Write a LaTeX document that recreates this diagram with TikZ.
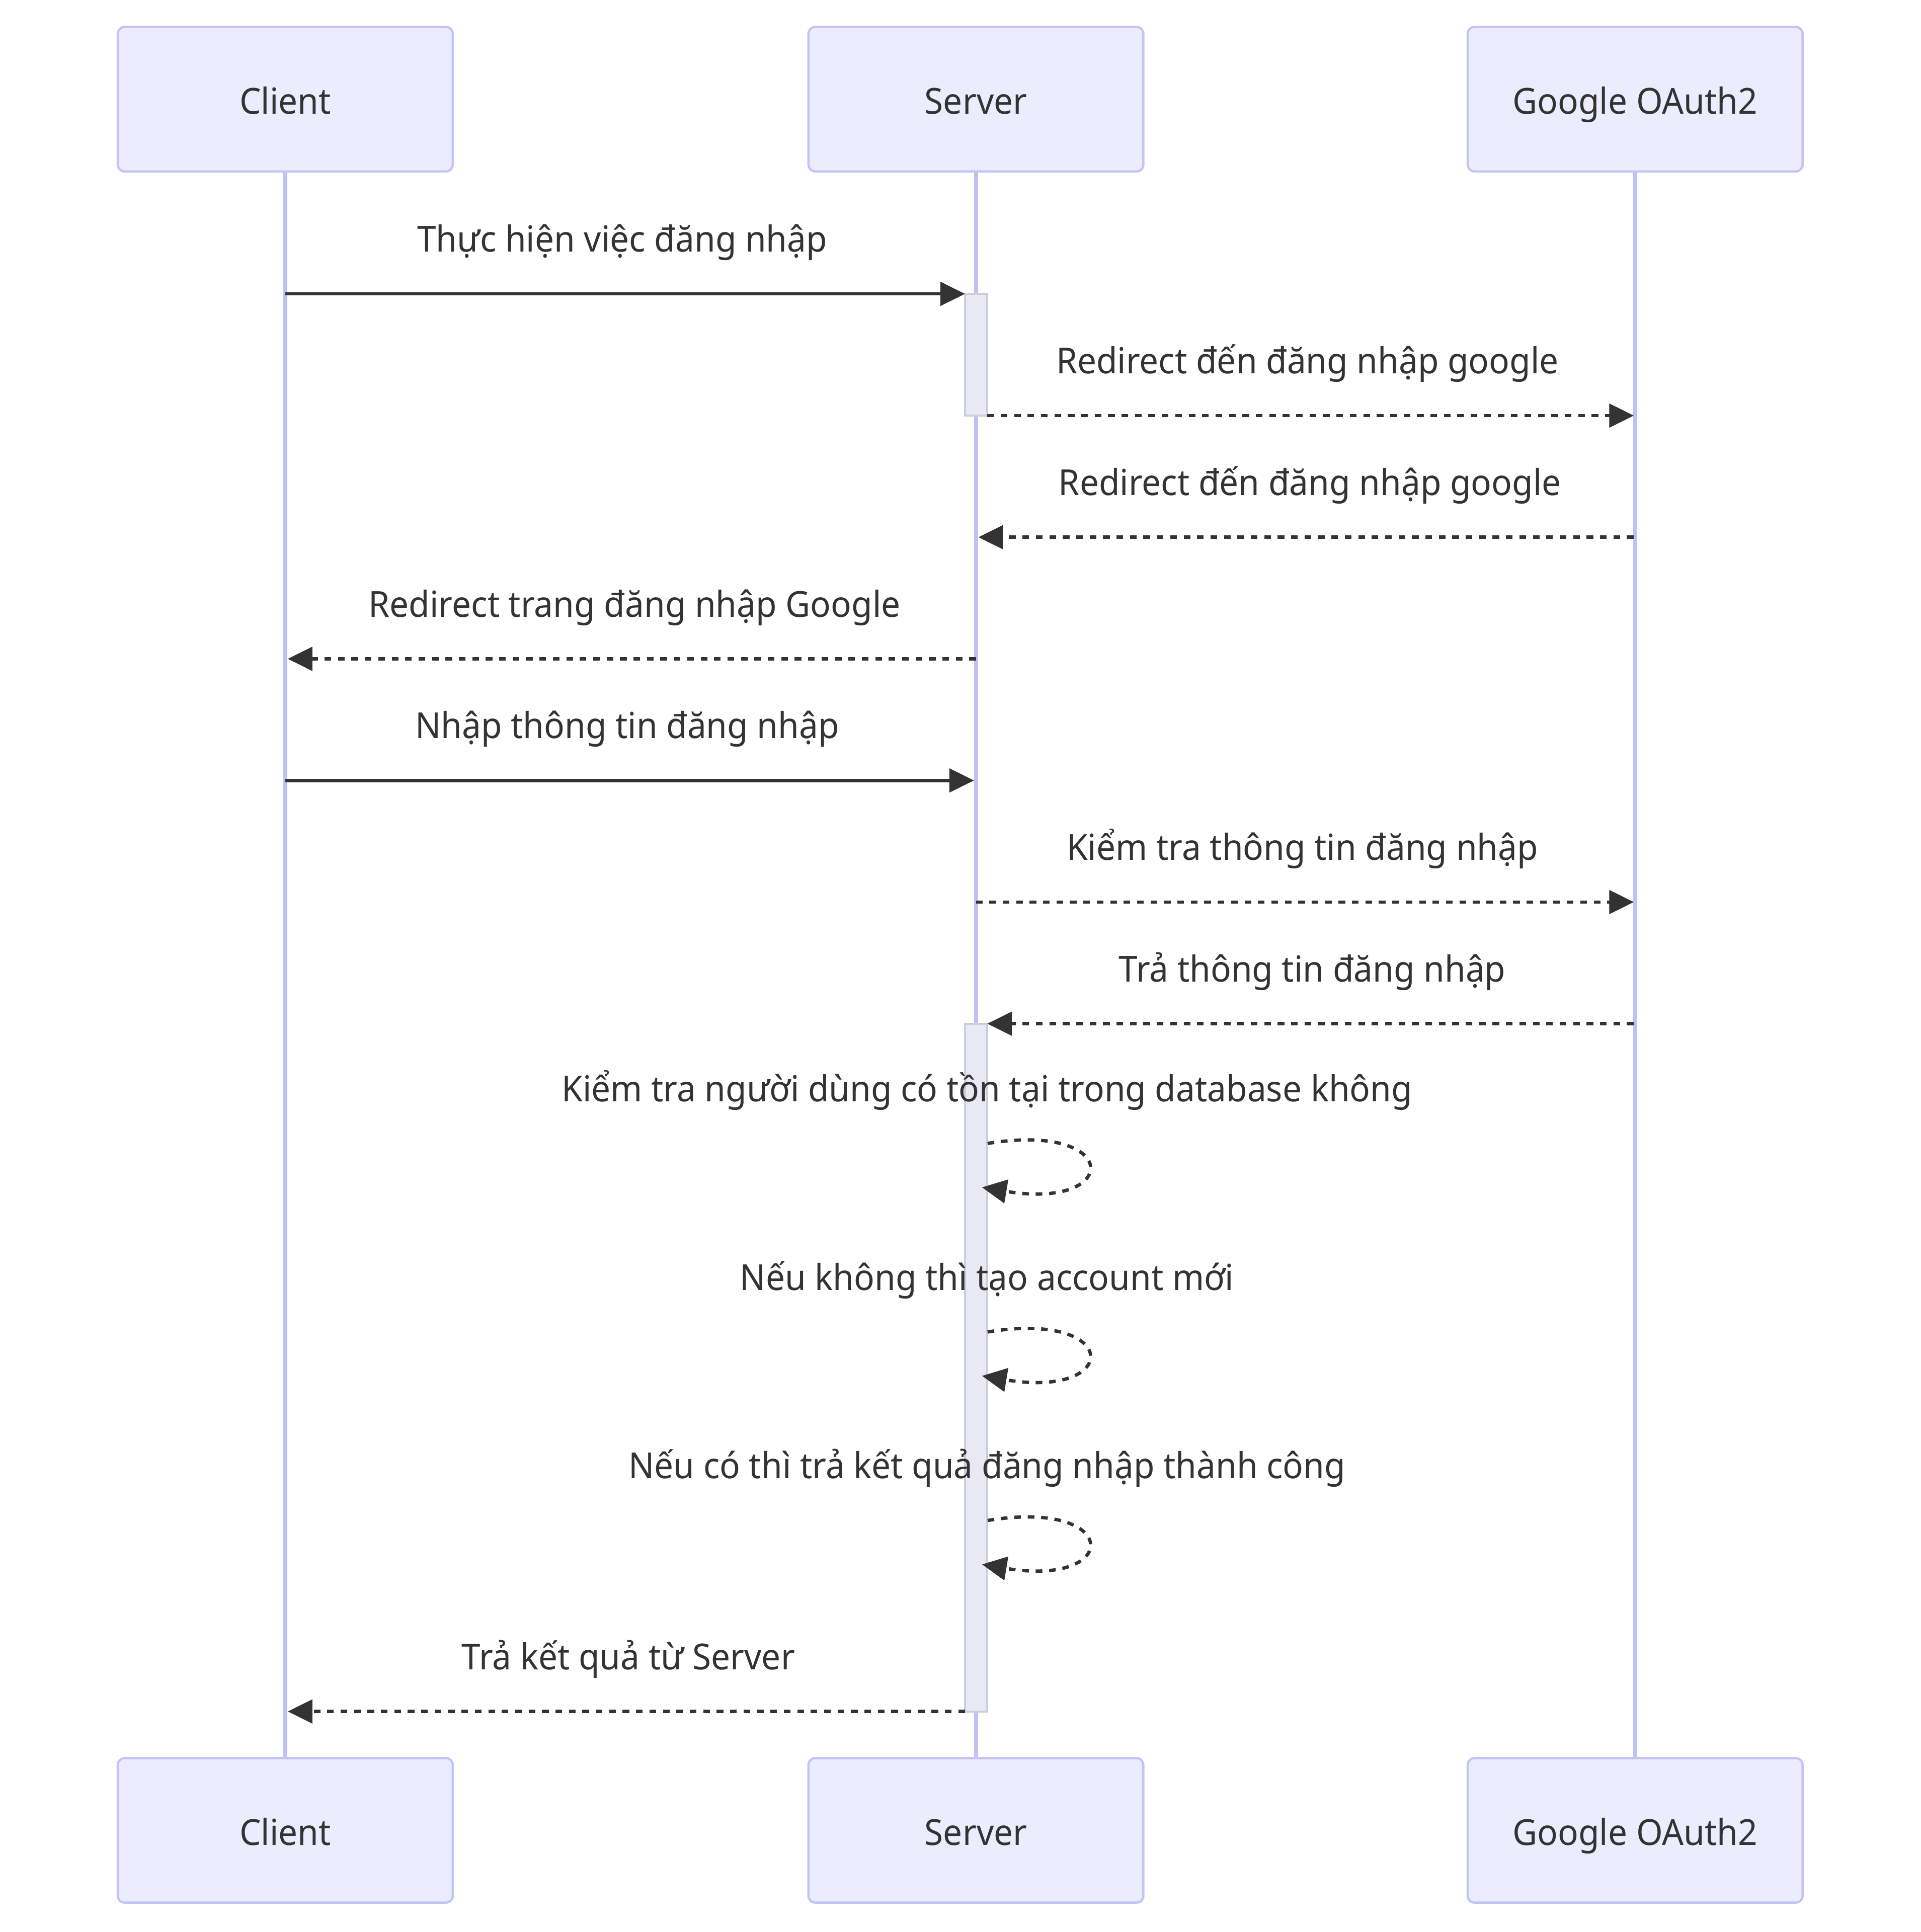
\documentclass[tikz,border=0pt]{standalone}
\usepackage{fontspec}
\setmainfont{Noto Sans}[FakeStretch=0.948]
\usetikzlibrary{arrows.meta}
\definecolor{actfill}{HTML}{ECECFF}
\definecolor{actborder}{HTML}{C4C4F4}
\definecolor{lifecol}{HTML}{C0C0F8}
\definecolor{actvfill}{HTML}{E9E9F3}
\definecolor{actvborder}{HTML}{CDCDDF}
\definecolor{ink}{HTML}{333333}
\begin{document}
\begin{tikzpicture}[x=1pt,y=-1pt,
  lbl/.style={font=\fontsize{29.1}{35}\selectfont, text=ink, inner sep=0pt, anchor=base},
  actorbox/.style={draw=actborder, fill=actfill, line width=1.8pt, rounded corners=5.5pt,
    minimum width=271.8pt, minimum height=117.3pt, inner sep=0pt,
    font=\fontsize{29.1}{35}\selectfont, text=ink, text height=24.2pt, text depth=0pt},
  lifeline/.style={draw=lifecol, line width=3.3pt},
  actv/.style={draw=actvborder, fill=actvfill, line width=1.6pt},
  msg/.style={draw=ink, line width=2.7pt, -{Triangle[length=20pt,width=19pt]}},
  msgdash/.style={msg, dash pattern=on 5.4pt off 5.5pt},
]
\useasboundingbox[fill=white] (0,0) rectangle (1559,1568);

% lifeline ends
\coordinate (cT) at (231.5,139.5); \coordinate (cB) at (231.5,1426);
\coordinate (sT) at (792,139.5);   \coordinate (sB) at (792,1426);
\coordinate (gT) at (1327,139.5);  \coordinate (gB) at (1327,1426);
\draw[lifeline] (cT) -- (cB);
\draw[lifeline] (sT) -- (sB);
\draw[lifeline] (gT) -- (gB);

% actors
\node[actorbox] (client) at (231.5,80.5) {Client};
\node[actorbox] (server) at (792,80.5) {Server};
\node[actorbox] (google) at (1327,80.5) {Google OAuth2};
\node[actorbox] (clientB) at (231.5,1485.5) {Client};
\node[actorbox] (serverB) at (792,1485.5) {Server};
\node[actorbox] (googleB) at (1327,1485.5) {Google OAuth2};

% message end points
\coordinate (m1a) at (231.5,238.5);  \coordinate (m1b) at (783.2,238.5);
\coordinate (m2a) at (801.2,337.3);  \coordinate (m2b) at (1326,337.3);
\coordinate (m3a) at (1325.7,436);   \coordinate (m3b) at (794,436);
\coordinate (m4a) at (792,534.7);    \coordinate (m4b) at (233.5,534.7);
\coordinate (m5a) at (231.5,633.4);  \coordinate (m5b) at (790.5,633.4);
\coordinate (m6a) at (792,732.1);    \coordinate (m6b) at (1326,732.1);
\coordinate (m7a) at (1325.7,830.8); \coordinate (m7b) at (801.2,830.8);
\coordinate (m8a) at (783.2,1389);   \coordinate (m8b) at (233.5,1389);

% activation bars
\draw[actv] (783.2,238.5) rectangle (801.2,337.3);
\draw[actv] (783.2,830.8) rectangle (801.2,1389);

% messages
\draw[msg] (m1a) -- (m1b);
\draw[msgdash] (m2a) -- (m2b);
\draw[msgdash] (m3a) -- (m3b);
\draw[msgdash] (m4a) -- (m4b);
\draw[msg] (m5a) -- (m5b);
\draw[msgdash] (m6a) -- (m6b);
\draw[msgdash] (m7a) -- (m7b);
\draw[msgdash] (m8a) -- (m8b);

% self messages
\foreach \n/\y in {1/928,2/1081,3/1234}{
  \coordinate (l\n a) at (801.5,\y);
  \coordinate (l\n b) at (801.5,\y+36.4);
  \draw[msgdash, shorten >=-4.6pt] (l\n a) .. controls (910.5,\y-18) and (910.5,\y+54.6) .. (l\n b);
}

% labels
\node[lbl] (t1) at (505,204.5) {Thực hiện việc đăng nhập};
\node[lbl] (t2) at (1061,303.3) {Redirect đến đăng nhập google};
\node[lbl] (t3) at (1063,402) {Redirect đến đăng nhập google};
\node[lbl] (t4) at (515,500.7) {Redirect trang đăng nhập Google};
\node[lbl] (t5) at (509,599.4) {Nhập thông tin đăng nhập};
\node[lbl] (t6) at (1057,698.1) {Kiểm tra thông tin đăng nhập};
\node[lbl] (t7) at (1065,796.8) {Trả thông tin đăng nhập};
\node[lbl] (t8) at (801,894) {Kiểm tra người dùng có tồn tại trong database không};
\node[lbl] (t9) at (801,1047) {Nếu không thì tạo account mới};
\node[lbl] (t10) at (801,1200) {Nếu có thì trả kết quả đăng nhập thành công};
\node[lbl] (t11) at (510,1355) {Trả kết quả từ Server};
\end{tikzpicture}
\end{document}
